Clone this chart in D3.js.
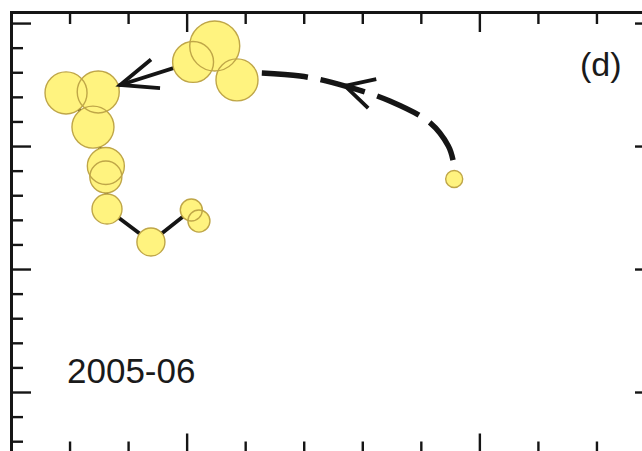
<!DOCTYPE html>
<html>
<head>
<meta charset="utf-8">
<script src="https://cdn.jsdelivr.net/npm/d3@7"></script>
<style>
  html, body { margin: 0; padding: 0; background: #fff; }
  svg { display: block; }
  text { font-family: "Liberation Sans", Arial, Helvetica, sans-serif; fill: #1a1a1a; }
</style>
</head>
<body>
<svg id="chart" width="642" height="451"></svg>
<script>
// Successive states, oldest first; bubble area follows pointSize
const pointX    = [1.457, 1.086, 1.048, 1.011, 0.849, 0.794, 0.840, 0.862, 0.862, 0.864, 0.939, 1.008, 1.021];
const pointY    = [0.866, 1.269, 1.407, 1.342, 1.220, 1.216, 1.077, 0.919, 0.874, 0.744, 0.610, 0.740, 0.695];
const pointSize = [11.6, 70.6, 100, 67, 70.6, 70.6, 70.6, 54.8, 41, 36, 31.4, 19.4, 19.4];

// Smoothed excursion from the first state up to the second (dashed)
const loopX = [1.091, 1.194, 1.271, 1.347, 1.416, 1.447, 1.455];
const loopY = [1.301, 1.285, 1.244, 1.183, 1.094, 1.000, 0.943];
const loopArrowX = 1.2705;      // where the direction arrow sits on the dashed path
const arrowFrom = 3;            // solid segment carrying an arrow: state 3 -> state 4

// Frame ticks (no tick labels)
const xMajorTicks = [1.0, 1.5];
const xMinorTicks = [0.8, 0.9, 1.1, 1.2, 1.3, 1.4, 1.6, 1.7];
const yMajorTicks = [0.0, 0.5, 1.0, 1.5];
const yMinorTicks = [-0.2, -0.1, 0.1, 0.2, 0.3, 0.4, 0.6, 0.7, 0.8, 0.9, 1.1, 1.2, 1.3, 1.4];

const panelLabel = "(d)";
const periodLabel = "2005-06";

const svg = d3.select("#chart");

const x = d3.scaleLinear().domain([0.7, 1.8]).range([11, 655]);
const y = d3.scaleLinear().domain([-0.25, 1.545]).range([453.5, 12]);
const r = d3.scaleSqrt().domain([0, 100]).range([0, 25]);

const ink = "#151515";

// ---- frame with inward ticks on all four sides ----
function side(axisFn, scale, majors, minors, transform) {
  const g = svg.append("g").attr("transform", transform);
  g.append("g").call(axisFn(scale).tickValues(majors).tickSize(20).tickSizeOuter(0).tickFormat(""));
  const minor = g.append("g").call(axisFn(scale).tickValues(minors).tickSize(12).tickSizeOuter(0).tickFormat(""));
  minor.select(".domain").remove();
  g.selectAll(".domain").attr("stroke", ink).attr("stroke-width", 3).attr("stroke-linecap", "square");
  g.selectAll(".tick line").attr("stroke", ink).attr("stroke-width", 2.4);
}
side(d3.axisRight,  y, yMajorTicks, yMinorTicks, `translate(${x.range()[0]},0)`);
side(d3.axisLeft,   y, yMajorTicks, yMinorTicks, `translate(${x.range()[1]},0)`);
side(d3.axisBottom, x, xMajorTicks, xMinorTicks, `translate(0,${y.range()[1]})`);
side(d3.axisTop,    x, xMajorTicks, xMinorTicks, `translate(0,${y.range()[0]})`);

const pts = pointX.map((v, i) => ({ x: v, y: pointY[i], s: pointSize[i] }));

// ---- trajectory: solid path through states 1..n ----
const straight = d3.line().x(d => x(d.x)).y(d => y(d.y));
svg.append("path")
  .attr("d", straight(pts.slice(1)))
  .attr("fill", "none")
  .attr("stroke", ink)
  .attr("stroke-width", 3.8)
  .attr("stroke-linejoin", "round");

// ---- dashed excursion ----
const loopPts = loopX.map((v, i) => ({ x: v, y: loopY[i] }));
const smooth = d3.line().x(d => x(d.x)).y(d => y(d.y)).curve(d3.curveCatmullRom);
const loopPath = svg.append("path")
  .attr("d", smooth(loopPts))
  .attr("fill", "none")
  .attr("stroke", ink)
  .attr("stroke-width", 5.5)
  .attr("stroke-dasharray", "46,13")
  .attr("stroke-dashoffset", 37);

// ---- bubbles: fills first, then all outlines on top ----
const bubbles = svg.append("g");
bubbles.selectAll("circle.fill").data(pts).join("circle")
  .attr("class", "fill")
  .attr("cx", d => x(d.x)).attr("cy", d => y(d.y)).attr("r", d => r(d.s))
  .attr("fill", "#fff37f");
bubbles.selectAll("circle.edge").data(pts).join("circle")
  .attr("class", "edge")
  .attr("cx", d => x(d.x)).attr("cy", d => y(d.y)).attr("r", d => r(d.s))
  .attr("fill", "none")
  .attr("stroke", "#bfa648")
  .attr("stroke-width", 1.4);

// ---- open arrowheads ----
function arrowHead(tip, back, len, halfAngleDeg, shaft) {
  const a = halfAngleDeg * Math.PI / 180;
  const rot = (v, t) => [v[0] * Math.cos(t) - v[1] * Math.sin(t), v[0] * Math.sin(t) + v[1] * Math.cos(t)];
  const w1 = rot(back, a), w2 = rot(back, -a);
  const p = d3.path();
  p.moveTo(tip[0] + w1[0] * len, tip[1] + w1[1] * len);
  p.lineTo(tip[0], tip[1]);
  p.lineTo(tip[0] + w2[0] * len, tip[1] + w2[1] * len);
  if (shaft) {
    p.moveTo(tip[0], tip[1]);
    p.lineTo(tip[0] + back[0] * shaft, tip[1] + back[1] * shaft);
  }
  svg.append("path")
    .attr("d", p.toString())
    .attr("fill", "none")
    .attr("stroke", ink)
    .attr("stroke-width", 3.8)
    .attr("stroke-linecap", "butt")
    .attr("stroke-linejoin", "miter");
}

// arrow on the solid segment, tip resting on the target bubble edge
{
  const a = pts[arrowFrom], b = pts[arrowFrom + 1];
  const ax = x(a.x), ay = y(a.y), bx = x(b.x), by = y(b.y);
  const L = Math.hypot(bx - ax, by - ay);
  const u = [(bx - ax) / L, (by - ay) / L];
  const d = r(b.s) + 2;
  const tip = [bx - u[0] * d, by - u[1] * d];
  arrowHead(tip, [-u[0], -u[1]], 40, 22, 0);
}

// arrow on the dashed excursion, pointing back along the path
{
  const node = loopPath.node();
  const total = node.getTotalLength();
  const target = x(loopArrowX);
  let lo = 0, hi = total;
  for (let k = 0; k < 40; k++) {
    const mid = (lo + hi) / 2;
    if (node.getPointAtLength(mid).x < target) lo = mid; else hi = mid;
  }
  const l = (lo + hi) / 2;
  const p0 = node.getPointAtLength(Math.max(0, l - 2));
  const p1 = node.getPointAtLength(Math.min(total, l + 2));
  const L = Math.hypot(p1.x - p0.x, p1.y - p0.y);
  const back = [(p1.x - p0.x) / L, (p1.y - p0.y) / L];
  const tp = node.getPointAtLength(l);
  arrowHead([tp.x, tp.y], back, 32, 28, 18);
}

// ---- labels ----
svg.append("text")
  .attr("x", 580).attr("y", 76)
  .attr("font-size", 34)
  .text(panelLabel);

svg.append("text")
  .attr("x", 67).attr("y", 383)
  .attr("font-size", 35)
  .text(periodLabel);
</script>
</body>
</html>
